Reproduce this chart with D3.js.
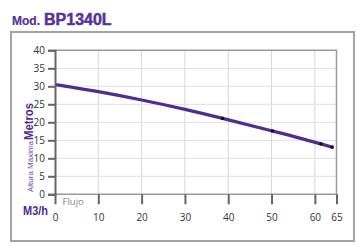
<!DOCTYPE html>
<html>
<head>
<meta charset="utf-8">
<script src="https://cdn.jsdelivr.net/npm/d3@7"></script>
<style>
  body { margin: 0; background: #fff; }
  svg { display: block; font-family: "Liberation Sans", Arial, sans-serif; }
</style>
</head>
<body>
<div id="chart"></div>
<script>
// curve (flow m3/h -> head m)
const flow = [0.5, 10, 20, 30, 38.7, 50.2, 61.4, 64];
const head = [30.4, 28.5, 26.2, 23.6, 21.1, 17.6, 14.0, 13.1];
// the points that carry a black marker
const markFlow = [38.7, 50.2, 61.4, 64];
const markHead = [21.1, 17.6, 14.0, 13.1];
const xTicks = [0, 10, 20, 30, 40, 50, 60, 65];
const yTicks = [0, 5, 10, 15, 20, 25, 30, 35, 40];

const W = 357, H = 246;
const purple = "#4f2d91";

const svg = d3.select("#chart").append("svg")
    .attr("width", W)
    .attr("height", H);

// outer frame
svg.append("rect")
    .attr("x", 11).attr("y", 32)
    .attr("width", 343).attr("height", 209)
    .attr("fill", "#fff")
    .attr("stroke", "#a3a3a3")
    .attr("stroke-width", 2);

// title
const title = svg.append("text")
    .attr("x", 12).attr("y", 25)
    .attr("fill", "#55349a")
    .attr("stroke", "#55349a")
    .style("font-weight", "bold");
title.append("tspan").text("Mod.").style("font-size", "12px")
    .attr("stroke-width", 0.2);
title.append("tspan").attr("dx", 4).text("BP1340L").style("font-size", "16px")
    .attr("stroke-width", 0.5);

const x = d3.scaleLinear().domain([0, 65]).range([55, 336.5]);
const y = d3.scaleLinear().domain([0, 40]).range([194.3, 50.3]);

// grid
svg.append("g").selectAll("line")
    .data(xTicks.filter(d => d > 0 && d < 65))
    .join("line")
    .attr("x1", d => x(d)).attr("x2", d => x(d))
    .attr("y1", y(0)).attr("y2", y(40))
    .attr("stroke", "#d6d6d6").attr("stroke-width", 1);
svg.append("g").selectAll("line")
    .data(yTicks.filter(d => d > 0 && d < 40))
    .join("line")
    .attr("x1", x(0)).attr("x2", x(65))
    .attr("y1", d => y(d)).attr("y2", d => y(d))
    .attr("stroke", "#e0e0e0").attr("stroke-width", 1);

// plot border top/right/bottom
svg.append("path")
    .attr("d", `M${x(0)},${y(40)}H${x(65)}V${y(0)}H${x(0)}`)
    .attr("fill", "none")
    .attr("stroke", "#9a9a9a")
    .attr("stroke-width", 1.5);

// y axis
const yAxis = svg.append("g")
    .attr("transform", `translate(${x(0)},0)`)
    .call(d3.axisLeft(y).tickValues(yTicks).tickSize(7).tickPadding(3));
yAxis.select(".domain").attr("stroke", "#666").attr("stroke-width", 2);
yAxis.selectAll(".tick line").attr("stroke", "#666").attr("stroke-width", 2);
yAxis.selectAll("text").attr("fill", "#333").style("font-size", "10px")
    .style("font-family", "'Open Sans', sans-serif");

// x axis
const xAxis = svg.append("g")
    .attr("transform", `translate(0,${y(0)})`)
    .call(d3.axisBottom(x).tickValues(xTicks).tickSize(10).tickPadding(10));
xAxis.select(".domain").remove();
xAxis.selectAll(".tick line").attr("stroke", "#666").attr("stroke-width", 2);
xAxis.selectAll("text").attr("fill", "#333").style("font-size", "10px")
    .style("font-family", "'Open Sans', sans-serif");

// axis captions
svg.append("text")
    .attr("x", 62.5).attr("y", 204.5)
    .attr("fill", "#888")
    .style("font-size", "9.5px")
    .style("font-family", "'Open Sans', sans-serif")
    .text("Flujo");
svg.append("text")
    .attr("x", 23).attr("y", 214.5)
    .attr("fill", purple)
    .attr("textLength", 25).attr("lengthAdjust", "spacingAndGlyphs")
    .style("font-size", "12px").style("font-weight", "bold")
    .text("M3/h");
svg.append("text")
    .attr("transform", "translate(33,140) rotate(-90)")
    .attr("fill", purple)
    .attr("textLength", 37).attr("lengthAdjust", "spacingAndGlyphs")
    .style("font-size", "13px").style("font-weight", "bold")
    .text("Metros");
svg.append("text")
    .attr("transform", "translate(33,192) rotate(-90)")
    .attr("fill", "#6a4cb4")
    .attr("textLength", 51).attr("lengthAdjust", "spacingAndGlyphs")
    .style("font-size", "7.5px")
    .text("Altura Máxima");

// curve
const line = d3.line()
    .x((d, i) => x(flow[i]))
    .y(d => y(d))
    .curve(d3.curveMonotoneX);
svg.append("path")
    .datum(head)
    .attr("d", line)
    .attr("fill", "none")
    .attr("stroke", purple)
    .attr("stroke-width", 3.2)
    .attr("stroke-linecap", "round");

svg.append("g").selectAll("rect")
    .data(markFlow)
    .join("rect")
    .attr("x", d => x(d) - 1.5)
    .attr("y", (d, i) => y(markHead[i]) - 1.5)
    .attr("width", 3).attr("height", 3)
    .attr("fill", "#111");
</script>
</body>
</html>
